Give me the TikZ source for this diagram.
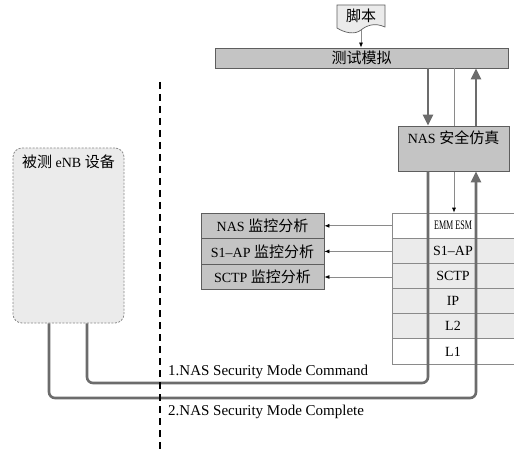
\documentclass[tikz,border=0pt]{standalone}
\usepackage{fontspec}
\usepackage{graphicx}
\setmainfont{Liberation Serif}
\newfontfamily\cjkfont{Noto Sans CJK SC}
\newcommand\zhtext[1]{{\fontsize{15}{17}\selectfont\cjkfont #1}}
\usetikzlibrary{arrows.meta}
\definecolor{lineg}{HTML}{6C6C6C}
\definecolor{boxg}{HTML}{C4C4C4}
\definecolor{edgeg}{HTML}{5E5E5E}
\definecolor{lightg}{HTML}{EBEBEB}
\definecolor{thing}{HTML}{8A8A8A}
\tikzset{
  txt/.style={font=\fontsize{14}{16}\selectfont, inner sep=0pt},
  greybox/.style={draw=edgeg, fill=boxg, line width=0.8pt, inner sep=0pt, font=\fontsize{14}{16}\selectfont},
  layer/.style={draw=thing, line width=0.7pt, inner sep=0pt, minimum width=122pt, minimum height=25.17pt, font=\fontsize{14}{16}\selectfont},
  thk/.style={draw=lineg, line width=2.6pt},
  bigtip/.style={-{Triangle[width=10pt,length=11pt]}},
  thinarr/.style={draw=thing, line width=0.7pt, -{Latex[length=5pt,width=4pt,color=black]}},
  dashline/.style={draw=black, line width=1.6pt, dash pattern=on 7pt off 5pt},
}
\begin{document}
\begin{tikzpicture}[x=1pt,y=-1pt]
\useasboundingbox (0,0) rectangle (514,449);
\fill[white] (0,0) rectangle (514,449);

% helper x positions
\coordinate (xa) at (428,0);
\coordinate (xb) at (454,0);
\coordinate (xc) at (476,0);
\coordinate (c1) at (87,383);
\coordinate (c2) at (49,398);

% script document
\draw[draw=edgeg, fill=lightg, line width=0.7pt]
  (337,5) -- (385,5) -- (385,27) .. controls (374,22) and (366,26) .. (361,30)
  .. controls (355,35) and (345,33) .. (337,28) -- cycle;
\node[txt] (script) at (361,16) {\zhtext{脚本}};
\coordinate (sb) at (361,30);

% simulation bar
\node[greybox, minimum width=293pt, minimum height=20pt] (sim) at (361.5,58) {\zhtext{测试模拟}};
\draw[thinarr] (sb) -- (sim.north -| sb);

% protocol stack
\node[layer, fill=white]  (r1) at (453,225.6) {\scalebox{0.62}[1]{\fontsize{13}{15}\selectfont EMM ESM}};
\node[layer, fill=lightg] (r2) at (453,250.8) {S1--AP};
\node[layer, fill=lightg] (r3) at (453,275.9) {SCTP};
\node[layer, fill=lightg] (r4) at (453,301.1) {IP};
\node[layer, fill=lightg] (r5) at (453,326.3) {L2};
\node[layer, fill=white]  (r6) at (453,351.4) {L1};

% thin line from bar to stack (behind NAS box)
\draw[thinarr] (sim.south -| xb) -- (r1.north -| xb);

% NAS security simulation box
\node[greybox, minimum width=111pt, minimum height=45pt] (nas) at (453.5,148.5) {};
\node[txt, anchor=north] (nastxt) at ([yshift=-5pt]nas.north) {NAS \zhtext{安全仿真}};

% monitoring boxes
\node[greybox, minimum width=123pt, minimum height=25.6pt] (m1) at (262.5,225.8) {NAS \zhtext{监控分析}};
\node[greybox, minimum width=123pt, minimum height=25.6pt] (m2) at (262.5,251.4) {S1--AP \zhtext{监控分析}};
\node[greybox, minimum width=123pt, minimum height=25.6pt] (m3) at (262.5,277.0) {SCTP \zhtext{监控分析}};
\draw[thinarr] (m1.east -| r1.west) -- (m1.east);
\draw[thinarr] (m2.east -| r1.west) -- (m2.east);
\draw[thinarr] (m3.east -| r1.west) -- (m3.east);

% eNB box
\node[draw=thing, fill=lightg, dash pattern=on 2pt off 1.5pt, line width=0.8pt, rounded corners=9pt,
      minimum width=111pt, minimum height=175pt, inner sep=0pt] (enb) at (68.5,235.5) {};
\node[txt, anchor=north] (enbtxt) at ([yshift=-7pt]enb.north) {\zhtext{被测} eNB \zhtext{设备}};

% thick arrows
\draw[thk, bigtip, -{Triangle[width=10pt,length=11pt,color=lineg]}] (sim.south -| xa) -- (nas.north -| xa);
\draw[thk, -{Triangle[width=10pt,length=11pt,color=lineg]}] (nas.north -| xc) -- (sim.south -| xc);
\draw[thk, rounded corners=6pt] (nas.south -| xa) -- (xa |- c1) -- (c1) -- (enb.south -| c1);
\draw[thk, rounded corners=6pt, -{Triangle[width=10pt,length=11pt,color=lineg]}] (enb.south -| c2) -- (c2) -- (c2 -| xc) -- (nas.south -| xc);

% dashed separator
\coordinate (d1) at (160,82);
\coordinate (d2) at (160,449);
\draw[dashline] (d1) -- (d2);

% message labels
\node[txt, anchor=west, font=\fontsize{15}{17}\selectfont] (lab1) at (168,372) {1.NAS Security Mode Command};
\node[txt, anchor=west, font=\fontsize{15}{17}\selectfont] (lab2) at (168,412) {2.NAS Security Mode Complete};
\end{tikzpicture}
\end{document}
